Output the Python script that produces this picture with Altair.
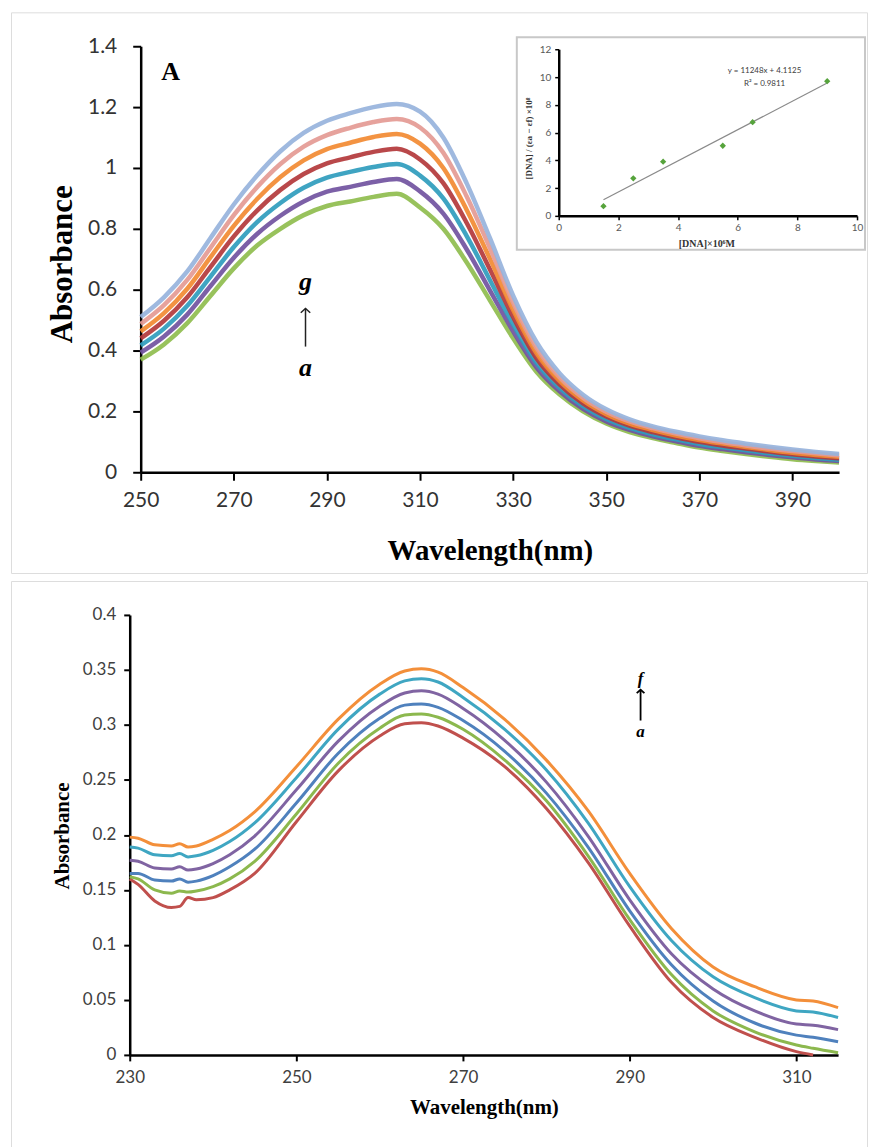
import altair as alt
import pandas as pd

# ---------------- Top panel (A): UV-Vis spectra a-g ----------------
wl_top = [250, 255, 260, 265, 270, 275, 280, 285, 290, 295, 300, 305, 310, 315, 320,
          325, 330, 335, 340, 345, 350, 355, 360, 365, 370, 375, 380, 385, 390, 395, 400]
top_a = [.370, .420, .490, .580, .670, .745, .800, .845, .875, .890, .905, .915, .870, .800, .690,
         .565, .440, .330, .255, .200, .160, .132, .112, .096, .081, .070, .060, .051, .043, .037, .032]
top_b = [.393, .446, .518, .612, .705, .783, .843, .890, .922, .938, .954, .964, .923, .850, .733,
         .598, .463, .345, .266, .208, .167, .139, .118, .102, .087, .076, .066, .057, .049, .042, .037]
top_c = [.417, .472, .547, .643, .740, .822, .885, .935, .968, .987, 1.003, 1.013, .975, .900, .777,
         .632, .486, .360, .277, .217, .175, .146, .125, .108, .093, .082, .072, .062, .054, .047, .041]
top_d = [.440, .498, .575, .675, .775, .860, .928, .980, 1.015, 1.035, 1.053, 1.063, 1.028, .950, .820,
         .667, .510, .375, .288, .226, .183, .153, .132, .115, .100, .088, .078, .068, .059, .052, .046]
top_e = [.463, .523, .603, .707, .810, .898, .970, 1.025, 1.062, 1.083, 1.102, 1.112, 1.080, 1.000, .863,
         .702, .533, .392, .300, .236, .191, .160, .139, .121, .106, .094, .083, .073, .064, .057, .051]
top_f = [.487, .549, .632, .738, .845, .937, 1.013, 1.070, 1.108, 1.132, 1.151, 1.161, 1.133, 1.050, .907,
         .737, .557, .410, .312, .245, .199, .167, .145, .127, .112, .099, .088, .078, .070, .062, .055]
top_g = [.510, .575, .660, .770, .880, .975, 1.055, 1.115, 1.155, 1.180, 1.200, 1.210, 1.185, 1.100, .950,
         .770, .580, .428, .325, .255, .207, .174, .151, .133, .118, .105, .094, .084, .075, .067, .060]
top_series = ["a", "b", "c", "d", "e", "f", "g"]
top_colors = ["#8fbd4e", "#7152a0", "#2f9cbd", "#b3383b", "#f28a32", "#e49a94", "#97b3dc"]
top_xticks = [250, 270, 290, 310, 330, 350, 370, 390]
top_yticks = [0, 0.2, 0.4, 0.6, 0.8, 1.0, 1.2, 1.4]

# inset: [DNA]/(ea-ef) vs [DNA]
ins_x = [1.5, 2.5, 3.5, 5.5, 6.5, 9.0]
ins_y = [0.7, 2.7, 3.9, 5.05, 6.75, 9.7]
ins_xticks = [0, 2, 4, 6, 8, 10]
ins_yticks = [0, 2, 4, 6, 8, 10, 12]
ins_eq = ["y = 11248x + 4.1125", "R² = 0.9811"]

# ---------------- Bottom panel: spectra a-f ----------------
wl_bot = [230, 231, 233, 235, 236, 237, 238, 240, 242, 245, 250, 255, 260, 263, 265, 267,
          270, 275, 280, 285, 290, 295, 300, 305, 310, 312, 315]
bot_a = [.160, .155, .140, .134, .135, .143, .141, .143, .150, .165, .212, .258, .290, .301, .302, .299,
         .288, .262, .224, .175, .117, .066, .034, .016, .003, .000]
bot_b = [.162, .160, .150, .147, .149, .148, .149, .153, .160, .176, .219, .265, .297, .309, .310, .307,
         .296, .268, .231, .181, .123, .073, .040, .021, .009, .006, .002]
bot_c = [.165, .165, .159, .158, .160, .157, .158, .163, .171, .187, .229, .274, .306, .318, .319, .316,
         .304, .276, .238, .189, .131, .082, .049, .029, .018, .016, .012]
bot_d = [.177, .176, .170, .169, .171, .168, .169, .174, .182, .199, .241, .285, .317, .329, .331, .328,
         .315, .286, .248, .199, .141, .092, .060, .040, .028, .027, .023]
bot_e = [.189, .188, .182, .181, .183, .180, .181, .186, .194, .211, .252, .296, .328, .340, .342, .339,
         .325, .296, .259, .211, .153, .104, .071, .052, .040, .039, .034]
bot_f = [.198, .197, .191, .190, .192, .189, .190, .196, .204, .221, .262, .305, .337, .349, .351, .348,
         .334, .305, .268, .222, .165, .115, .080, .062, .050, .049, .043]
bot_series = ["a", "b", "c", "d", "e", "f"]
bot_colors = ["#c0504d", "#8cb84e", "#4f81bd", "#8064a2", "#3fa6c2", "#f38f3a"]
bot_xticks = [230, 250, 270, 290, 310]
bot_yticks = [0, 0.05, 0.1, 0.15, 0.2, 0.25, 0.3, 0.35, 0.4]

# ---------------- data frames ----------------
rows = []
for s, vals in zip(top_series, [top_a, top_b, top_c, top_d, top_e, top_f, top_g]):
    for w, v in zip(wl_top, vals):
        rows.append({"series": s, "wl": w, "A": v})
df_top = pd.DataFrame(rows)

rows = []
for s, vals in zip(bot_series, [bot_a, bot_b, bot_c, bot_d, bot_e, bot_f]):
    for w, v in zip(wl_bot, vals):
        rows.append({"curve": s, "wl": w, "A": v})
df_bot = pd.DataFrame(rows)

df_ins = pd.DataFrame({"dna": ins_x, "ratio": ins_y})

SERIF = "Liberation Serif"
SANS = "Lato"

W1, H1 = 858, 562
W2, H2 = 858, 575

# ---------------- top panel ----------------
xs_top = alt.Scale(domain=[250, 400], range=[130, 830], nice=False, zero=False)
ys_top = alt.Scale(domain=[0, 1.4], range=[461, 34], nice=False, zero=False)

ax_top_x = alt.Axis(orient="bottom", offset=461 - H1, values=top_xticks, format="d",
                    title="Wavelength(nm)", titleX=480, titleY=78, titleAlign="center",
                    titleBaseline="middle", titleFont=SERIF, titleFontSize=29,
                    titleFontWeight="bold", titleColor="black",
                    labelFont=SANS, labelFontSize=21, labelColor="#333333", labelPadding=9,
                    labelOverlap=False, labelFlush=False,
                    tickSize=8, tickWidth=2, tickColor="black",
                    domainColor="black", domainWidth=2.5, grid=False)
ax_top_y = alt.Axis(orient="left", offset=-130, values=top_yticks, format=".1~f",
                    title="Absorbance", titleX=-78, titleY=252, titleAngle=270,
                    titleAlign="center", titleBaseline="middle", titleFont=SERIF,
                    titleFontSize=31, titleFontWeight="bold", titleColor="black",
                    labelFont=SANS, labelFontSize=21, labelColor="#333333", labelPadding=16,
                    labelOverlap=False, labelFlush=False,
                    tickSize=8, tickWidth=2, tickColor="black",
                    domainColor="black", domainWidth=2.5, grid=False)

X_T = alt.X("wl:Q", scale=xs_top, axis=ax_top_x)
Y_T = alt.Y("A:Q", scale=ys_top, axis=ax_top_y)

lines_top = alt.Chart(df_top).mark_line(strokeWidth=4.5, interpolate="monotone", opacity=0.92).encode(
    x=X_T, y=Y_T,
    color=alt.Color("series:N", scale=alt.Scale(domain=top_series, range=top_colors), legend=None),
)

lab_top = pd.DataFrame({"wl": [256.4, 285.4, 285.4], "A": [1.315, 0.626, 0.341],
                        "t": ["A", "g", "a"]})
txt_A = alt.Chart(lab_top.iloc[[0]]).mark_text(font=SERIF, fontSize=26, fontWeight="bold",
                                               color="black", baseline="middle").encode(
    x=X_T, y=Y_T, text="t:N")
txt_ga = alt.Chart(lab_top.iloc[[1, 2]]).mark_text(font=SERIF, fontSize=26, fontWeight="bold",
                                                   fontStyle="italic", color="black",
                                                   baseline="middle").encode(
    x=X_T, y=Y_T, text="t:N")
arr_top = pd.DataFrame({"wl": [285.4], "A": [0.413], "A2": [0.538]})
rule_top = alt.Chart(arr_top).mark_rule(color="#222222", strokeWidth=1.5).encode(
    x=X_T, y=Y_T, y2="A2:Q")
head_top = alt.Chart(arr_top).mark_point(shape="M-1,0.9L0,0L1,0.9", filled=False, size=90,
                                         color="#222222", strokeWidth=1.5, opacity=1).encode(
    x=X_T, y=alt.Y("A2:Q", scale=ys_top, axis=ax_top_y))

main_top = alt.layer(lines_top, txt_A, txt_ga, rule_top, head_top)

# inset
xs_in = alt.Scale(domain=[0, 10], range=[549, 848], nice=False, zero=False)
ys_in = alt.Scale(domain=[0, 12], range=[204, 37], nice=False, zero=False)
ax_in_x = alt.Axis(orient="bottom", offset=204 - H1, values=ins_xticks, format="d",
                   title="[DNA]×10⁶M", titleX=697, titleY=28, titleAlign="center",
                   titleBaseline="middle", titleFont=SERIF, titleFontSize=10,
                   titleFontWeight="bold", titleColor="#333333",
                   labelFont=SANS, labelFontSize=10, labelColor="#595959", labelPadding=3,
                   labelOverlap=False, labelFlush=False,
                   tickSize=4, tickWidth=1.5, tickColor="black",
                   domainColor="black", domainWidth=2.5, grid=False, zindex=2)
ax_in_y = alt.Axis(orient="left", offset=-549, values=ins_yticks, format="d",
                   title="[DNA] / (εa − εf) ×10⁸", titleX=-30, titleY=126, titleAngle=270,
                   titleAlign="center", titleBaseline="middle", titleFont=SERIF,
                   titleFontSize=9, titleFontWeight="bold", titleColor="#333333",
                   labelFont=SANS, labelFontSize=10, labelColor="#595959", labelPadding=4,
                   labelOverlap=False, labelFlush=False,
                   tickSize=4, tickWidth=1.5, tickColor="black",
                   domainColor="black", domainWidth=2.5, grid=False, zindex=2)
X_I = alt.X("dna:Q", scale=xs_in, axis=ax_in_x)
Y_I = alt.Y("ratio:Q", scale=ys_in, axis=ax_in_y)

ins_box = alt.Chart(pd.DataFrame({"k": [0]})).mark_rect(
    fill="white", stroke="#c8c8c8", strokeWidth=2).encode(
    x=alt.value(507), x2=alt.value(856), y=alt.value(25), y2=alt.value(238))
ins_pts = alt.Chart(df_ins).mark_point(shape="diamond", filled=True, size=40,
                                       color="#56a33c", opacity=1).encode(x=X_I, y=Y_I)
ins_fit = alt.Chart(df_ins).transform_regression(
    "dna", "ratio", extent=[1.5, 9.0]).mark_line(color="#8a8a8a", strokeWidth=1.2).encode(
    x=X_I, y=Y_I)
eq_df = pd.DataFrame({"dna": [6.9, 6.9], "ratio": [10.4, 9.5], "t": ins_eq})
ins_eq_txt = alt.Chart(eq_df).mark_text(font=SANS, fontSize=8, color="#404040").encode(
    x=X_I, y=Y_I, text="t:N")

inset = alt.layer(ins_box, ins_fit, ins_pts, ins_eq_txt)

top = alt.layer(main_top, inset).resolve_scale(x="independent", y="independent").properties(
    width=W1, height=H1)

# ---------------- bottom panel ----------------
xs_bot = alt.Scale(domain=[230, 315], range=[119, 829], nice=False, zero=False)
ys_bot = alt.Scale(domain=[0, 0.4], range=[475, 34], nice=False, zero=False)
ax_bot_x = alt.Axis(orient="bottom", offset=475 - H2, values=bot_xticks, format="d",
                    title="Wavelength(nm)", titleX=474, titleY=53, titleAlign="center",
                    titleBaseline="middle", titleFont=SERIF, titleFontSize=21,
                    titleFontWeight="bold", titleColor="black",
                    labelFont=SANS, labelFontSize=17, labelColor="#404040", labelPadding=9,
                    labelOverlap=False, labelFlush=False,
                    tickSize=6, tickWidth=2, tickColor="black",
                    domainColor="black", domainWidth=2.5, grid=False)
ax_bot_y = alt.Axis(orient="left", offset=-119, values=bot_yticks, format=".2~f",
                    title="Absorbance", titleX=-67, titleY=255, titleAngle=270,
                    titleAlign="center", titleBaseline="middle", titleFont=SERIF,
                    titleFontSize=21, titleFontWeight="bold", titleColor="black",
                    labelFont=SANS, labelFontSize=17, labelColor="#404040", labelPadding=8,
                    labelOverlap=False, labelFlush=False,
                    tickSize=6, tickWidth=2, tickColor="black",
                    domainColor="black", domainWidth=2.5, grid=False)
X_B = alt.X("wl:Q", scale=xs_bot, axis=ax_bot_x)
Y_B = alt.Y("A:Q", scale=ys_bot, axis=ax_bot_y)

lines_bot = alt.Chart(df_bot).mark_line(strokeWidth=3, interpolate="monotone").encode(
    x=X_B, y=Y_B,
    color=alt.Color("curve:N", scale=alt.Scale(domain=bot_series, range=bot_colors), legend=None),
)
lab_bot = pd.DataFrame({"wl": [291.3, 291.3], "A": [0.342, 0.294], "t": ["f", "a"]})
txt_bot = alt.Chart(lab_bot).mark_text(font=SERIF, fontSize=17, fontWeight="bold",
                                       fontStyle="italic", color="black",
                                       baseline="middle").encode(x=X_B, y=Y_B, text="t:N")
arr_bot = pd.DataFrame({"wl": [291.3], "A": [0.304], "A2": [0.332]})
rule_bot = alt.Chart(arr_bot).mark_rule(color="black", strokeWidth=1.8).encode(
    x=X_B, y=Y_B, y2="A2:Q")
head_bot = alt.Chart(arr_bot).mark_point(shape="M-1,0.9L0,0L1,0.9", filled=False, size=60,
                                         color="black", strokeWidth=1.8, opacity=1).encode(
    x=X_B, y=alt.Y("A2:Q", scale=ys_bot, axis=ax_bot_y))

bottom = alt.layer(lines_bot, txt_bot, rule_bot, head_bot).properties(width=W2, height=H2)

chart = alt.vconcat(top, bottom, spacing=6).resolve_scale(color="independent").properties(
    padding={"left": 2, "top": 2, "right": 2, "bottom": 2}
).configure_view(stroke="#a6a6a6", strokeWidth=1.5).configure(background="white")

chart.save("out.html", embed_options={"renderer": "svg", "actions": False})
